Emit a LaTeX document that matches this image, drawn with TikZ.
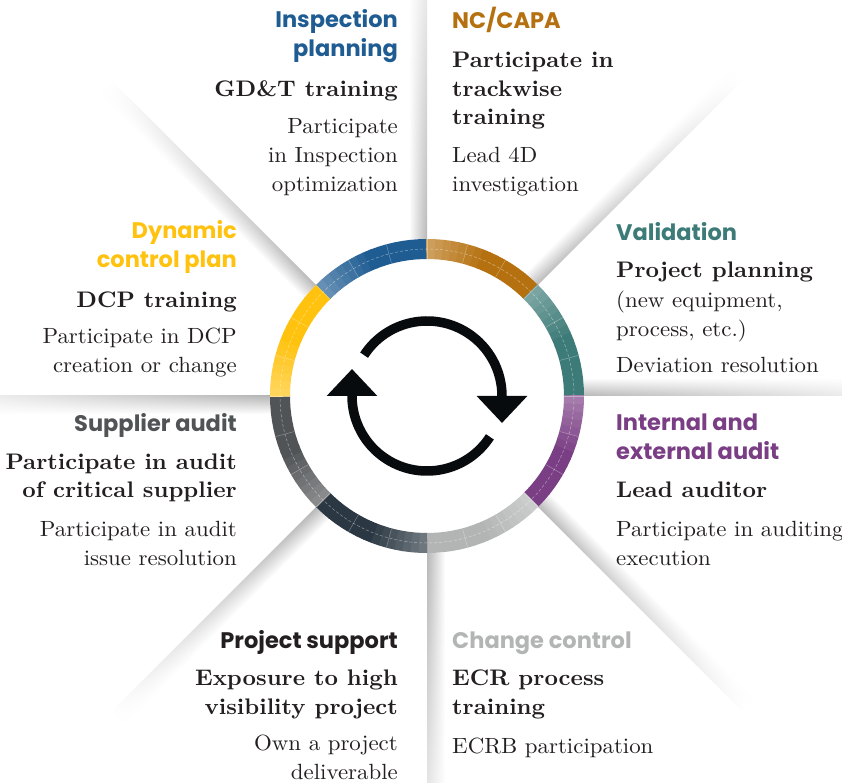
\documentclass[tikz,border=0pt]{standalone}
\usepackage{fontspec}
\setmainfont{lmroman10-regular.otf}[BoldFont=lmroman10-bold.otf, FakeStretch=1.04]
\newfontfamily\headfont{Poppins}
\usetikzlibrary{arrows.meta,fadings}

\definecolor{inspblue}{HTML}{1F5C92}
\definecolor{capaorange}{HTML}{B5710F}
\definecolor{valteal}{HTML}{3D7B78}
\definecolor{auditpurple}{HTML}{7A3E84}
\definecolor{changegray}{HTML}{B3B4B4}
\definecolor{supportslate}{HTML}{2B3843}
\definecolor{supplgray}{HTML}{515457}
\definecolor{dcpyellow}{HTML}{FFC20E}
\definecolor{inkblack}{HTML}{231F20}
\definecolor{arrowblack}{HTML}{080B0E}

\tikzfading[name=spokefade, left color=transparent!0, right color=transparent!100]

\tikzset{
  spokeshade/.style={bottom color=black!28, top color=white, path fading=spokefade, fit fading=true},
  headtext/.style={font=\headfont\bfseries\fontsize{22.5}{29}\selectfont, inner sep=0pt},
  leadtext/.style={font=\bfseries\fontsize{22.5}{28.5}\selectfont, inner sep=0pt, text=inkblack},
  bodytext/.style={font=\fontsize{22}{29}\selectfont, inner sep=0pt, text=inkblack},
  rside/.style={anchor=base east, align=right},
  lside/.style={anchor=base west, align=left},
  cyclearrow/.style={line width=9.5pt, draw=arrowblack, -{Triangle[width=49pt,length=27pt]}}
}

\begin{document}
\begin{tikzpicture}[x=1pt,y=1pt]
\useasboundingbox[fill=white] (-427,-387) rectangle (415,396);

% shadows of the spokes
\foreach \ang/\len in {90/520, 45/445, 0/520, -45/445, -90/520, -135/445, 180/520, 135/445}{
  \begin{scope}[transform canvas={rotate=\ang}]
    \shade[spokeshade] (157,0) rectangle (\len,18);
  \end{scope}
}

% the coloured ring
\foreach \a/\c in {90/inspblue, 45/capaorange, 0/valteal, -45/auditpurple,
                   -90/changegray, -135/supportslate, 180/supplgray, 135/dcpyellow}{
  \foreach \k in {0,...,14}{
    \pgfmathsetmacro\m{100-max(0,\k-7)*4.5}
    \pgfmathsetmacro\s{\a+3*\k}
    \pgfmathsetmacro\e{\a+3*\k+3.3}
    \fill[\c!\m!white] (\s:157) arc[start angle=\s, end angle=\e, radius=157]
      -- (\e:137) arc[start angle=\e, end angle=\s, radius=137] -- cycle;
  }
}
\foreach \t in {0,15,...,345}
  \draw[white, opacity=.35, line width=.5pt] (\t:137) -- (\t:157);
\draw[white, opacity=.45, line width=.5pt, dash pattern=on 3pt off 2pt] (0,0) circle (147);

% cycle arrows
\draw[cyclearrow] (147:75) arc[start angle=147, end angle=0, radius=75] -- ++(0,-27);
\draw[cyclearrow] (-33:75) arc[start angle=-33, end angle=-180, radius=75] -- ++(0,27);

% Inspection planning
\node[headtext, rside, text=inspblue] (insp-head) at (-29,339) {Inspection\\planning};
\node[leadtext, rside] (insp-lead) at (-29,299) {GD\&T training};
\node[bodytext, rside] (insp-body) at (-29,204) {Participate\\in Inspection\\optimization};

% NC/CAPA
\node[headtext, lside, text=capaorange] (capa-head) at (25,367) {NC/CAPA};
\node[leadtext, lside] (capa-lead) at (25,271) {Participate in\\trackwise\\training};
\node[bodytext, lside] (capa-body) at (25,204) {Lead 4D\\investigation};

% Validation
\node[headtext, lside, text=valteal] (val-head) at (189,155) {Validation};
\node[leadtext, lside] (val-lead) at (189,118) {Project planning};
\node[bodytext, lside] (val-body) at (189,59) {(new equipment,\\process, etc.)};
\node[bodytext, lside] (val-dev) at (189,23) {Deviation resolution};

% Internal and external audit
\node[headtext, lside, text=auditpurple] (audit-head) at (189,-64) {Internal and\\external audit};
\node[leadtext, lside] (audit-lead) at (189,-102) {Lead auditor};
\node[bodytext, lside] (audit-body) at (189,-169) {Participate in auditing\\execution};

% Change control
\node[headtext, lside, text=changegray] (chg-head) at (25,-252) {Change control};
\node[leadtext, lside] (chg-lead) at (25,-318) {ECR process\\training};
\node[bodytext, lside] (chg-body) at (25,-357) {ECRB participation};

% Project support
\node[headtext, rside, text=inkblack] (supp-head) at (-29,-252) {Project support};
\node[leadtext, rside] (supp-lead) at (-29,-318) {Exposure to high\\visibility project};
\node[bodytext, rside] (supp-body) at (-29,-383) {Own a project\\deliverable};

% Supplier audit
\node[headtext, rside, text=supplgray] (sup-head) at (-190,-36) {Supplier audit};
\node[leadtext, rside] (sup-lead) at (-190,-102) {Participate in audit\\of critical supplier};
\node[bodytext, rside] (sup-body) at (-190,-169) {Participate in audit\\issue resolution};

% Dynamic control plan
\node[headtext, rside, text=dcpyellow] (dcp-head) at (-190,128) {Dynamic\\control plan};
\node[leadtext, rside] (dcp-lead) at (-190,88) {DCP training};
\node[bodytext, rside] (dcp-body) at (-190,23) {Participate in DCP\\creation or change};
\end{tikzpicture}
\end{document}
